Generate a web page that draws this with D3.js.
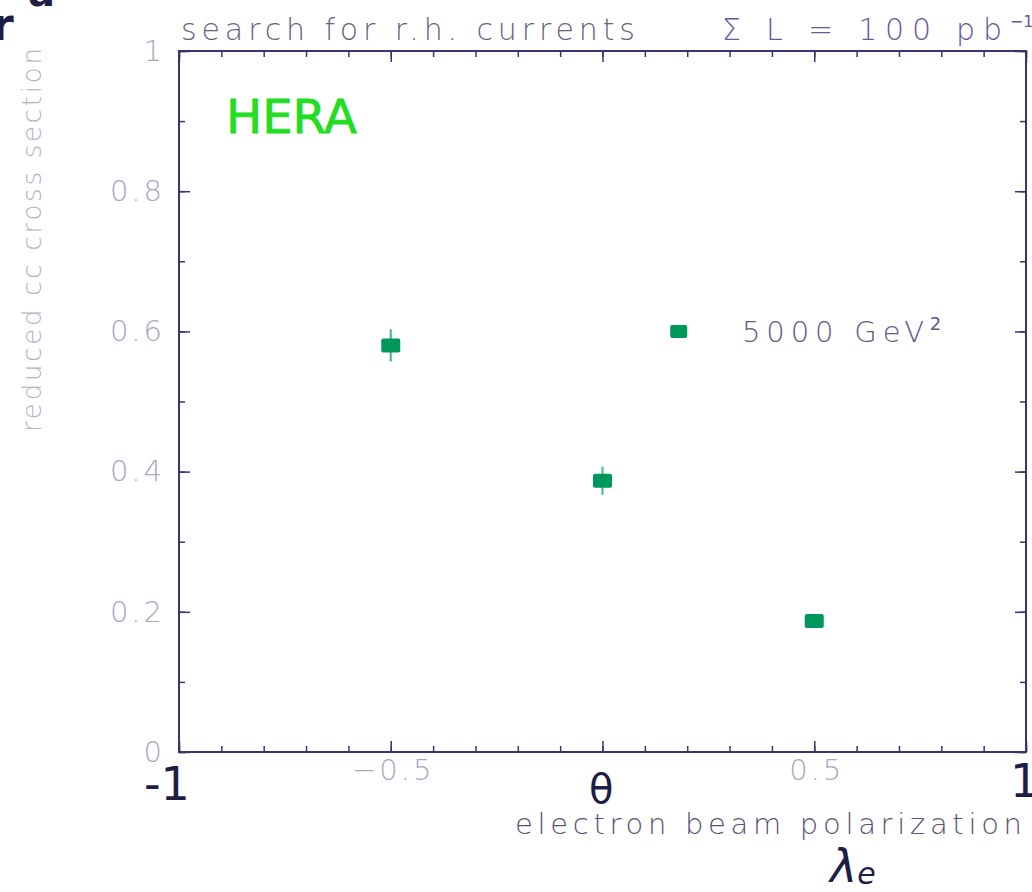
<!DOCTYPE html>
<html>
<head>
<meta charset="utf-8">
<script src="https://cdn.jsdelivr.net/npm/d3@7"></script>
<style>
  html, body { margin: 0; padding: 0; background: #fff; }
  svg { display: block; }
</style>
</head>
<body>
<script>
// values
const polarization = [-0.5, 0, 0.5];
const crossSection = [0.58, 0.387, 0.187];
const crossErr = [0.023, 0.02, 0.008];
const yTickValues = [0, 0.2, 0.4, 0.6, 0.8, 1];
const yMinorValues = d3.range(0, 1.001, 0.1);
const xLabelValues = [-0.5, 0.5];
const xMajorValues = [-1, -0.5, 0, 0.5, 1];
const xMinorValues = d3.range(-1, 1.001, 0.1);
const legendPos = [0.18, 0.6];
const legendLabel = "5000 GeV";

const width = 1032, height = 892;
const margin = {top: 51, right: 6, bottom: 140, left: 179};

const frameColor = "#3d3270";
const tickLabelColor = "#aaa6c4";
const markColor = "#00975a";

const svg = d3.select("body").append("svg")
  .attr("width", width)
  .attr("height", height);

const x = d3.scaleLinear().domain([-1, 1]).range([margin.left, width - margin.right]);
const y = d3.scaleLinear().domain([0, 1]).range([height - margin.bottom, margin.top]);

const fontLight = "'DejaVu Sans', sans-serif";

// ticks (inward), major + minor on all four sides
function styleAxis(g) {
  g.select(".domain").remove();
  g.selectAll(".tick line").attr("stroke", frameColor).attr("stroke-width", 1.5);
  g.selectAll(".tick text")
    .attr("fill", tickLabelColor)
    .attr("font-family", fontLight)
    .attr("font-weight", 200)
    .attr("font-size", 29)
    .attr("letter-spacing", 3);
}

svg.append("g").attr("transform", `translate(0,${y(0)})`)
  .call(d3.axisBottom(x).tickValues(xMinorValues).tickSize(-6).tickFormat(""))
  .call(styleAxis);
svg.append("g").attr("transform", `translate(0,${y(0)})`)
  .call(d3.axisBottom(x).tickValues(xMajorValues).tickSize(-11)
    .tickFormat(d => xLabelValues.includes(d) ? d3.format(".1f")(d) : "").tickPadding(7))
  .call(styleAxis)
  .call(g => g.selectAll(".tick text").attr("dx", 2));
svg.append("g").attr("transform", `translate(0,${y(1)})`)
  .call(d3.axisTop(x).tickValues(xMinorValues).tickSize(-6).tickFormat(""))
  .call(styleAxis);
svg.append("g").attr("transform", `translate(0,${y(1)})`)
  .call(d3.axisTop(x).tickValues(xMajorValues).tickSize(-11).tickFormat(""))
  .call(styleAxis);

svg.append("g").attr("transform", `translate(${x(-1)},0)`)
  .call(d3.axisLeft(y).tickValues(yMinorValues).tickSize(-6).tickFormat(""))
  .call(styleAxis);
svg.append("g").attr("transform", `translate(${x(-1)},0)`)
  .call(d3.axisLeft(y).tickValues(yTickValues).tickSize(-11)
    .tickFormat(d => d === 0 || d === 1 ? d3.format("d")(d) : d3.format(".1f")(d)).tickPadding(14))
  .call(styleAxis);
svg.append("g").attr("transform", `translate(${x(1)},0)`)
  .call(d3.axisRight(y).tickValues(yMinorValues).tickSize(-6).tickFormat(""))
  .call(styleAxis);
svg.append("g").attr("transform", `translate(${x(1)},0)`)
  .call(d3.axisRight(y).tickValues(yTickValues).tickSize(-11).tickFormat(""))
  .call(styleAxis);

// frame
svg.append("rect")
  .attr("x", x(-1)).attr("y", y(1))
  .attr("width", x(1) - x(-1)).attr("height", y(0) - y(1))
  .attr("fill", "none").attr("stroke", frameColor).attr("stroke-width", 2);

// titles
svg.append("text")
  .attr("x", 181).attr("y", 40)
  .attr("textLength", 454).attr("lengthAdjust", "spacing")
  .attr("font-family", fontLight).attr("font-weight", 200).attr("font-size", 30)
  .attr("fill", "#67637f")
  .text("search for r.h. currents");

const lumi = svg.append("text")
  .attr("x", 722).attr("y", 40)
  .attr("font-family", fontLight).attr("font-weight", 200).attr("font-size", 30)
  .attr("fill", "#66599a");
lumi.append("tspan").attr("textLength", 280).attr("lengthAdjust", "spacing").text("Σ L = 100 pb");
lumi.append("tspan").attr("dy", -13).attr("font-size", 16).attr("font-weight", 400).text("−1");

svg.append("text")
  .attr("transform", "translate(41,432) rotate(-90)")
  .attr("textLength", 384).attr("lengthAdjust", "spacing")
  .attr("font-family", fontLight).attr("font-weight", 200).attr("font-size", 26)
  .attr("fill", "#b4b0cc")
  .text("reduced cc cross section");

svg.append("text")
  .attr("x", 515).attr("y", 834)
  .attr("textLength", 507).attr("lengthAdjust", "spacing")
  .attr("font-family", fontLight).attr("font-weight", 200).attr("font-size", 29)
  .attr("fill", "#5c5274")
  .text("electron beam polarization");

// data: error bars + squares
const pts = polarization.map((p, i) => ({x: p, y: crossSection[i], e: crossErr[i]}));

svg.append("g").selectAll("line")
  .data(pts)
  .join("line")
    .attr("x1", d => x(d.x)).attr("x2", d => x(d.x))
    .attr("y1", d => y(d.y - d.e)).attr("y2", d => y(d.y + d.e))
    .attr("stroke", "#3fb67e").attr("stroke-width", 2);

svg.append("g").selectAll("rect")
  .data(pts)
  .join("rect")
    .attr("x", d => x(d.x) - 9.5).attr("y", d => y(d.y) - 7)
    .attr("width", 19).attr("height", 14).attr("rx", 2)
    .attr("fill", markColor);

// legend
svg.append("rect")
  .attr("x", x(legendPos[0]) - 8.5).attr("y", y(legendPos[1]) - 6.5)
  .attr("width", 17).attr("height", 13).attr("rx", 2)
  .attr("fill", markColor);
const leg = svg.append("text")
  .attr("x", 742).attr("y", y(legendPos[1]) + 11)
  .attr("font-family", fontLight).attr("font-weight", 200).attr("font-size", 29)
  .attr("fill", "#645a86");
leg.append("tspan").attr("textLength", 182).attr("lengthAdjust", "spacing").text(legendLabel);
leg.append("tspan").attr("dy", -12).attr("font-size", 18).attr("font-weight", 400).text("2");

// handwritten annotations
const hand = "'DejaVu Sans', sans-serif";
svg.append("text")
  .attr("x", 226).attr("y", 133)
  .attr("textLength", 131).attr("lengthAdjust", "spacingAndGlyphs")
  .attr("font-family", hand).attr("font-size", 46)
  .attr("fill", "#22dd22").attr("stroke", "#22dd22").attr("stroke-width", 0.8)
  .text("HERA");

const ink = "#1d1d45";
svg.append("text").attr("x", 144).attr("y", 800)
  .attr("font-family", hand).attr("font-size", 46).attr("fill", ink)
  .text("-1");
svg.append("text").attr("x", 589).attr("y", 803)
  .attr("font-family", hand).attr("font-size", 40).attr("fill", ink)
  .text("θ");
svg.append("text").attr("x", 1010).attr("y", 797)
  .attr("font-family", hand).attr("font-size", 46).attr("fill", ink)
  .text("1");
const lam = svg.append("text").attr("x", 830).attr("y", 882)
  .attr("font-family", hand).attr("font-size", 46).attr("fill", ink)
  .attr("font-style", "italic");
lam.append("tspan").text("λ");
lam.append("tspan").attr("font-size", 30).attr("dy", 2).text("e");

// scribble fragments at the top-left edge
svg.append("text").attr("x", -8).attr("y", 40)
  .attr("font-family", hand).attr("font-size", 44).attr("font-weight", "bold").attr("fill", ink)
  .text("r");
svg.append("text").attr("x", 28).attr("y", 6)
  .attr("font-family", hand).attr("font-size", 40).attr("font-weight", "bold").attr("fill", ink)
  .text("a");
</script>
</body>
</html>
